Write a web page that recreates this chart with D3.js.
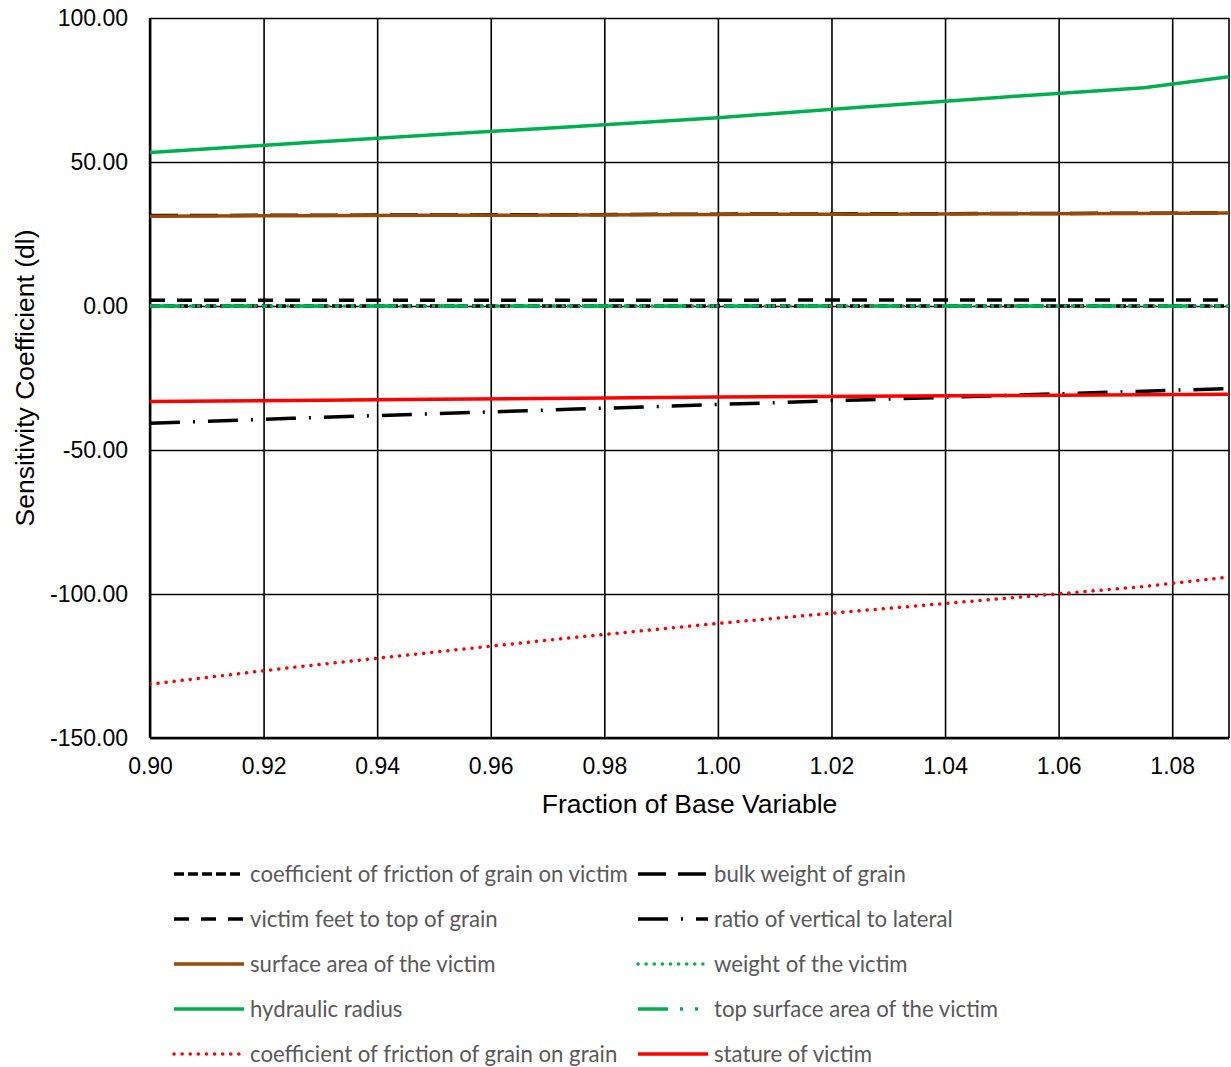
<!DOCTYPE html>
<html>
<head>
<meta charset="utf-8">
<script src="https://cdn.jsdelivr.net/npm/d3@7"></script>
<style>
  body { margin: 0; background: #fff; }
  .tick text { font-family: "Liberation Sans", Arial, sans-serif; font-size: 23px; fill: #000; }
  .legend text { font-family: Lato, "Open Sans", sans-serif; font-size: 22.2px; fill: #595959; }
</style>
</head>
<body>
<div id="chart"></div>
<script>
// fraction of base variable (x values)
var fractions = [0.900, 0.925, 0.950, 0.975, 1.000, 1.025, 1.050, 1.075, 1.100];

// sensitivity coefficients
var frictionGrainVictim = [0.0, 0.0, 0.0, 0.0, 0.0, 0.0, 0.0, 0.0, 0.0];
var bulkWeight          = [31.4, 31.5, 31.6, 31.7, 31.9, 32.0, 32.1, 32.2, 32.4];
var feetToTop           = [2.0, 2.0, 2.0, 2.0, 2.0, 2.1, 2.1, 2.1, 2.1];
var ratioVertLat        = [-40.7, -39.0, -37.4, -35.8, -34.2, -32.6, -31.1, -29.6, -28.0];
var surfaceArea         = [31.2, 31.35, 31.5, 31.6, 31.8, 31.9, 32.0, 32.15, 32.4];
var weightVictim        = [0.0, 0.0, 0.0, 0.0, 0.0, 0.0, 0.0, 0.0, 0.0];
var hydraulicRadius     = [53.3, 56.4, 59.5, 62.3, 65.4, 69.0, 72.5, 75.8, 82.1];
var topSurfaceArea      = [0.0, 0.0, 0.0, 0.0, 0.0, 0.0, 0.0, 0.0, 0.0];
var frictionGrainGrain  = [-131.3, -125.5, -120.2, -115.0, -110.2, -105.8, -101.6, -97.4, -91.9];
var statureVictim       = [-33.2, -32.8, -32.4, -32.0, -31.6, -31.3, -31.1, -30.8, -30.5];

var xTicks = [0.90, 0.92, 0.94, 0.96, 0.98, 1.00, 1.02, 1.04, 1.06, 1.08];
var yTicks = [-150, -100, -50, 0, 50, 100];

// legend / draw order
var series = [
  {name: "coefficient of friction of grain on victim", values: frictionGrainVictim, color: "#000", dash: "10,4", cap: "butt"},
  {name: "bulk weight of grain", values: bulkWeight, color: "#000", dash: "28,12", cap: "butt"},
  {name: "victim feet to top of grain", values: feetToTop, color: "#000", dash: "15,12", cap: "butt"},
  {name: "ratio of vertical to lateral", values: ratioVertLat, color: "#000", dash: "30,13,2,13", cap: "butt"},
  {name: "surface area of the victim", values: surfaceArea, color: "#984807", dash: null, cap: "butt"},
  {name: "weight of the victim", values: weightVictim, color: "#00B050", dash: "0.1,8", cap: "round"},
  {name: "hydraulic radius", values: hydraulicRadius, color: "#00B050", dash: null, cap: "butt"},
  {name: "top surface area of the victim", values: topSurfaceArea, color: "#00B050", dash: "30,12,3,12,3,12", cap: "butt"},
  {name: "coefficient of friction of grain on grain", values: frictionGrainGrain, color: "#FF0000", dash: "0.1,8", cap: "round"},
  {name: "stature of victim", values: statureVictim, color: "#FF0000", dash: null, cap: "butt"}
];

var margin = {top: 18, right: 2, bottom: 329, left: 150},
    width = 1231 - margin.left - margin.right,
    height = 1067 - margin.top - margin.bottom;

var svg = d3.select("#chart").append("svg")
    .attr("width", 1231)
    .attr("height", 1067)
  .append("g")
    .attr("transform", "translate(" + margin.left + "," + margin.top + ")");

var x = d3.scaleLinear().domain([0.9, 1.09]).range([0, width]);
var y = d3.scaleLinear().domain([-150, 100]).range([height, 0]);

svg.append("defs").append("clipPath").attr("id", "plotclip")
  .append("rect").attr("width", width).attr("height", height);

// grid lines + tick labels
var xAxis = svg.append("g")
    .attr("transform", "translate(0," + height + ")")
    .call(d3.axisBottom(x).tickValues(xTicks).tickSize(-height).tickPadding(20)
      .tickFormat(function(d){ return d.toFixed(2); }));
var yAxis = svg.append("g")
    .call(d3.axisLeft(y).tickValues(yTicks).tickSize(-width).tickPadding(22)
      .tickFormat(function(d){ return d.toFixed(2); }));
[xAxis, yAxis].forEach(function(a){
  a.select(".domain").remove();
  a.selectAll(".tick line").attr("stroke", "#000").attr("stroke-width", 1.6);
});

// right edge of plot area
svg.append("line").attr("x1", width).attr("x2", width).attr("y1", 0).attr("y2", height)
  .attr("stroke", "#000").attr("stroke-width", 1.6);
// axis lines
svg.append("line").attr("x1", 0).attr("x2", 0).attr("y1", 0).attr("y2", height)
  .attr("stroke", "#000").attr("stroke-width", 2.4);
svg.append("line").attr("x1", 0).attr("x2", width).attr("y1", height).attr("y2", height)
  .attr("stroke", "#000").attr("stroke-width", 2.4);

var line = d3.line()
  .x(function(d, i){ return x(fractions[i]); })
  .y(function(d){ return y(d); });

var plot = svg.append("g").attr("clip-path", "url(#plotclip)");
series.forEach(function(s){
  plot.append("path")
    .datum(s.values)
    .attr("fill", "none")
    .attr("stroke", s.color)
    .attr("stroke-width", 3.5)
    .attr("stroke-linecap", s.cap)
    .attr("stroke-dasharray", s.dash)
    .attr("d", line);
});

// axis titles
svg.append("text")
  .attr("x", width / 2)
  .attr("y", height + 75)
  .attr("text-anchor", "middle")
  .style("font-family", "'Liberation Sans', Arial, sans-serif")
  .style("font-size", "26.5px")
  .text("Fraction of Base Variable");

svg.append("text")
  .attr("transform", "rotate(-90)")
  .attr("x", -height / 2)
  .attr("y", -116)
  .attr("text-anchor", "middle")
  .style("font-family", "'Liberation Sans', Arial, sans-serif")
  .style("font-size", "26.5px")
  .text("Sensitivity Coefficient (dl)");

// legend, two columns
var legend = d3.select("svg").append("g").attr("class", "legend");
series.forEach(function(s, i){
  var col = i % 2, row = Math.floor(i / 2);
  var lx = col === 0 ? 174 : 638, ly = 874 + row * 45;
  var g = legend.append("g").attr("transform", "translate(" + lx + "," + ly + ")");
  g.append("line")
    .attr("x1", 0).attr("x2", 70).attr("y1", 0).attr("y2", 0)
    .attr("stroke", s.color)
    .attr("stroke-width", 3.5)
    .attr("stroke-linecap", s.cap)
    .attr("stroke-dasharray", s.dash);
  g.append("text")
    .attr("x", 76)
    .attr("dy", "0.35em")
    .text(s.name);
});
</script>
</body>
</html>
